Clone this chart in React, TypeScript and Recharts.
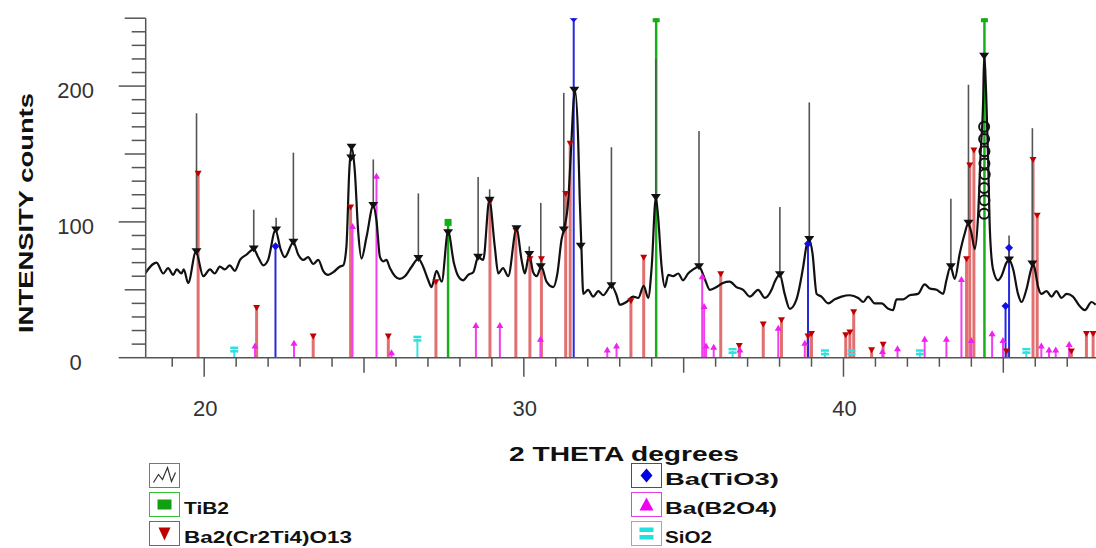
import React from 'react';
import { ComposedChart, Line, Scatter, XAxis, YAxis, ReferenceLine } from 'recharts';

// measured pattern (2theta, counts)
const pattern: [number, number][] = [
  [18.15, 62], [18.51, 70], [18.72, 62], [18.87, 66], [19.03, 61], [19.14, 65], [19.29, 62], [19.36, 65],
  [19.5, 55], [19.74, 78], [19.97, 60], [20.18, 65], [20.33, 62], [20.49, 67], [20.65, 65], [20.8, 68],
  [20.96, 64], [21.12, 72], [21.33, 76], [21.55, 80], [21.69, 74], [21.85, 68], [22.0, 72], [22.23, 94],
  [22.39, 80], [22.52, 74], [22.79, 85], [22.94, 76], [23.1, 72], [23.25, 74], [23.41, 69], [23.57, 72],
  [23.72, 64], [23.88, 61], [24.04, 63], [24.24, 67], [24.35, 68], [24.45, 82], [24.54, 138], [24.61, 155],
  [24.71, 138], [24.82, 92], [24.92, 73], [25.08, 89], [25.29, 112], [25.39, 101], [25.5, 74], [25.6, 71],
  [25.7, 72], [25.81, 66], [25.97, 60], [26.12, 58], [26.28, 60], [26.49, 67], [26.7, 73], [26.85, 67],
  [27.01, 57], [27.11, 52], [27.27, 64], [27.43, 56], [27.63, 93], [27.81, 70], [27.95, 60], [28.1, 57],
  [28.26, 61], [28.42, 63], [28.57, 74], [28.73, 72], [28.92, 116], [29.09, 82], [29.2, 62], [29.35, 66],
  [29.51, 60], [29.77, 95], [29.93, 72], [30.03, 62], [30.17, 76], [30.29, 63], [30.4, 60], [30.55, 67],
  [30.71, 56], [30.92, 52], [31.05, 62], [31.18, 87], [31.25, 94], [31.39, 116], [31.49, 160], [31.56, 190],
  [31.6, 197], [31.7, 160], [31.75, 116], [31.8, 82], [31.86, 47], [32.01, 50], [32.17, 45], [32.33, 49],
  [32.48, 46], [32.74, 53], [32.9, 46], [33.0, 39], [33.21, 41], [33.42, 45], [33.58, 44], [33.75, 53],
  [33.89, 44], [34.0, 67], [34.13, 118], [34.2, 104], [34.31, 67], [34.41, 52], [34.52, 61], [34.67, 60],
  [34.83, 62], [34.98, 57], [35.14, 62], [35.3, 65], [35.48, 67], [35.66, 58], [35.82, 50], [36.03, 52],
  [36.23, 55], [36.44, 56], [36.65, 52], [36.86, 50], [37.07, 45], [37.33, 50], [37.54, 44], [37.75, 50],
  [37.85, 56], [38.01, 61], [38.16, 47], [38.32, 36], [38.53, 43], [38.74, 67], [38.84, 82], [38.93, 87],
  [39.03, 77], [39.16, 47], [39.31, 45], [39.52, 40], [39.73, 43], [39.94, 45], [40.2, 46], [40.46, 44],
  [40.62, 41], [40.77, 45], [40.98, 40], [41.19, 40], [41.4, 36], [41.55, 35], [41.66, 43], [41.87, 43],
  [42.07, 46], [42.33, 47], [42.54, 54], [42.7, 51], [42.91, 50], [43.12, 47], [43.22, 57], [43.35, 67],
  [43.48, 58], [43.64, 77], [43.8, 92], [43.9, 99], [44.0, 92], [44.11, 80], [44.21, 104], [44.29, 150],
  [44.37, 190], [44.4, 222], [44.47, 190], [44.53, 141], [44.58, 94], [44.68, 65], [44.84, 57], [44.94, 60],
  [45.1, 70], [45.18, 72], [45.31, 65], [45.46, 47], [45.57, 41], [45.72, 50], [45.88, 66], [45.93, 69],
  [45.98, 66], [46.09, 52], [46.19, 47], [46.35, 49], [46.51, 45], [46.66, 49], [46.82, 44], [46.98, 47],
  [47.18, 45], [47.39, 38], [47.55, 35], [47.76, 41], [47.89, 39],
];

// peak search sticks: position, count at curve, top
const peakSticks: [number, number, number][] = [
  [19.76, 78, 180], [21.55, 80, 109], [22.25, 94, 103], [22.79, 85, 151], [25.29, 112, 146],
  [26.7, 73, 121], [28.57, 74, 133], [28.93, 116, 124], [30.17, 76, 82], [30.53, 67, 114],
  [31.25, 94, 195], [32.74, 53, 155], [34.13, 118, 220], [35.48, 67, 167], [38.01, 61, 111],
  [38.93, 87, 188], [43.36, 67, 117], [43.91, 99, 201], [45.18, 72, 90], [45.91, 69, 169],
];
const extraPeaks: [number, number][] = [
  [24.61, 155], [24.6, 147], [27.63, 92], [29.77, 95], [31.58, 197], [31.78, 82], [44.4, 222],
];
const peakLoops: [number, number][] = [
  [44.4, 106], [44.41, 116], [44.4, 125], [44.42, 135], [44.41, 143], [44.41, 152], [44.4, 161], [44.4, 170],
];

// reference phases (position, intensity)
const baCrTiO: [number, number][] = [
  [19.81, 137], [21.64, 38], [23.41, 17], [24.58, 112], [25.76, 17], [27.25, 57], [28.94, 116], [29.75, 95],
  [30.19, 74], [30.55, 74], [31.31, 122], [31.45, 159], [33.35, 43], [33.75, 75], [36.16, 63], [36.74, 10],
  [37.49, 26], [38.06, 29], [38.89, 17], [39.0, 19], [40.07, 18], [40.2, 20], [40.32, 35], [40.88, 7],
  [41.24, 11], [43.85, 74], [43.95, 143], [44.08, 154], [45.1, 6], [45.93, 147], [46.06, 106], [47.13, 6],
  [47.6, 19], [47.81, 19],
];
const tiB2: [number, number][] = [[27.63, 100], [34.14, 250], [44.41, 250]];
const baTiO3: [number, number][] = [[22.23, 82], [31.56, 250], [38.89, 84], [45.07, 38], [45.18, 81]];
const baB2O4: [number, number][] = [
  [21.59, 9], [22.81, 11], [24.64, 97], [25.39, 134], [25.86, 4], [28.5, 24], [29.25, 24], [30.52, 14],
  [32.61, 6], [32.9, 9], [35.58, 60], [35.64, 38], [35.7, 9], [35.94, 8], [36.76, 6], [37.96, 22],
  [38.79, 11], [41.22, 5], [41.69, 7], [42.54, 14], [43.22, 14], [43.69, 58], [44.0, 13], [44.65, 18],
  [44.99, 13], [46.19, 9], [46.43, 6], [46.64, 6], [47.06, 10],
];
const siO2: [number, number][] = [[20.94, 6], [26.67, 14], [36.53, 5], [39.42, 4], [40.25, 4], [42.39, 4], [45.72, 5]];

const xTicks = Array.from({ length: 29 }, (_, i) => 19 + i);
const yTicks = Array.from({ length: 26 }, (_, i) => i * 10);
const xLabels = [20, 30, 40];

const font = '"Liberation Sans", Arial, sans-serif';
const pts = (a: [number, number][]) => a.map(([x, y]) => ({ x, y }));

const XTick = (p: any) => {
  const v = p.payload.value;
  const len = v % 10 === 0 ? 19 : v % 5 === 0 ? 15 : 9;
  return (
    <g>
      <line x1={p.x} x2={p.x} y1={p.y} y2={p.y + len} stroke="#555" strokeWidth={1.5} />
      {xLabels.includes(v) && (
        <text x={p.x + 1} y={p.y + 58} textAnchor="middle" fontSize={22} fill="#333" fontFamily={font}>{v}</text>
      )}
    </g>
  );
};

const YTick = (p: any) => {
  const v = p.payload.value;
  const len = v % 100 === 0 ? 27 : v % 50 === 0 ? 21 : 14;
  return (
    <g>
      <line x1={p.x - len} x2={p.x} y1={p.y} y2={p.y} stroke="#555" strokeWidth={1.5} />
      {v % 100 === 0 && (
        <text x={p.x - 70} y={p.y + 12} textAnchor="middle" fontSize={22} fill="#333" fontFamily={font}>{v}</text>
      )}
    </g>
  );
};

const downTri = (color: string, w: number, h: number, dy = 0) => (p: any) => (
  <path d={`M${p.cx - w},${p.cy + dy - h / 2}L${p.cx + w},${p.cy + dy - h / 2}L${p.cx},${p.cy + dy + h / 2}Z`} fill={color} />
);
const upTri = (p: any) => (
  <path d={`M${p.cx - 3.5},${p.cy + 3}L${p.cx + 3.5},${p.cy + 3}L${p.cx},${p.cy - 3}Z`} fill="#f020f0" />
);
const square = (p: any) => <rect x={p.cx - 3.5} y={p.cy - 3} width={7} height={7} fill="#10b010" />;
const diamond = (p: any) => (
  <path d={`M${p.cx},${p.cy - 4}L${p.cx + 4},${p.cy}L${p.cx},${p.cy + 4}L${p.cx - 4},${p.cy}Z`} fill="#1010e0" />
);
const bars = (p: any) => (
  <g fill="#30e0e0">
    <rect x={p.cx - 4} y={p.cy - 3} width={8} height={2.5} />
    <rect x={p.cx - 4} y={p.cy + 0.5} width={8} height={2.5} />
  </g>
);
const loop = (p: any) => <circle cx={p.cx} cy={p.cy} r={5} fill="none" stroke="#111" strokeWidth={2} />;

const sticks = (a: [number, number][], color: string, width: number, key: string) =>
  a.map(([x, y], i) => (
    <ReferenceLine key={key + i} segment={[{ x, y: 0 }, { x, y }]} stroke={color} strokeWidth={width} />
  ));

const legendLeft = [
  { label: '', color: '#777' },
  { label: 'TiB2', color: '#30c030' },
  { label: 'Ba2(Cr2Ti4)O13', color: '#d04040' },
];
const legendRight = [
  { label: 'Ba(TiO3)', color: '#4040d0' },
  { label: 'Ba(B2O4)', color: '#e040e0' },
  { label: 'SiO2', color: '#30d8d8' },
];
const legendWidths: Record<string, number> = {
  TiB2: 45, 'Ba2(Cr2Ti4)O13': 168, 'Ba(TiO3)': 114, 'Ba(B2O4)': 112, SiO2: 47,
};

const Icon = ({ x, y, row, side }: { x: number; y: number; row: number; side: 'l' | 'r' }) => {
  const cx = x + 15;
  const cy = y + 12;
  if (side === 'l' && row === 0)
    return <polyline points={`${x + 4},${y + 19} ${x + 9},${y + 11} ${x + 13},${y + 16} ${x + 18},${y + 4} ${x + 22},${y + 18} ${x + 26},${y + 9}`} fill="none" stroke="#333" strokeWidth={1.2} />;
  if (side === 'l' && row === 1) return <rect x={cx - 7} y={cy - 5} width={14} height={10} fill="#10a010" />;
  if (side === 'l' && row === 2) return <path d={`M${cx - 6},${cy - 6}L${cx + 6},${cy - 6}L${cx},${cy + 7}Z`} fill="#c00000" />;
  if (row === 0) return <path d={`M${cx},${cy - 7}L${cx + 6},${cy}L${cx},${cy + 7}L${cx - 6},${cy}Z`} fill="#0000e0" />;
  if (row === 1) return <path d={`M${cx - 7},${cy + 6}L${cx + 7},${cy + 6}L${cx},${cy - 7}Z`} fill="#f000f0" />;
  return (
    <g fill="#20e0e0">
      <rect x={cx - 7} y={cy - 6} width={14} height={4.5} />
      <rect x={cx - 7} y={cy + 1.5} width={14} height={4.5} />
    </g>
  );
};

const rowY = (i: number) => 463 + i * 29;

export default function App() {
  const curve = pts(pattern);
  return (
    <div style={{ position: 'relative', width: 1096, height: 548, background: '#fff', fontFamily: font }}>
      <style>{'body{margin:0}'}</style>
      <ComposedChart width={1096} height={548} data={curve} margin={{ top: 18.2, right: 0, left: 0, bottom: 150.3 }}>
        <XAxis
          dataKey="x"
          type="number"
          domain={[18.17, 47.9]}
          allowDataOverflow
          ticks={xTicks}
          interval={0}
          tickSize={0}
          tickMargin={0}
          tickLine={false}
          tick={XTick}
          height={40}
          axisLine={{ stroke: '#555', strokeWidth: 1.5 }}
        />
        <YAxis
          dataKey="y"
          type="number"
          domain={[0, 250]}
          allowDataOverflow
          ticks={yTicks}
          interval={0}
          tickSize={0}
          tickMargin={0}
          tickLine={false}
          tick={YTick}
          width={145.7}
          axisLine={{ stroke: '#555', strokeWidth: 1.5 }}
        />
        {sticks(siO2, '#40e0e0', 2, 'si')}
        {sticks(baCrTiO, '#e27070', 3, 'cr')}
        {sticks(baB2O4, '#f040f0', 2, 'bb')}
        {sticks(baTiO3, '#2828e0', 2, 'bt')}
        {sticks(tiB2, '#18b018', 2.5, 'tb')}
        {peakSticks.map(([x, lo, hi], i) => (
          <ReferenceLine key={'pk' + i} segment={[{ x, y: lo }, { x, y: hi }]} stroke="#555" strokeWidth={1.6} />
        ))}
        <Line dataKey="y" type="monotone" stroke="#111" strokeWidth={2.2} dot={false} isAnimationActive={false} />
        <Scatter data={pts(baCrTiO)} shape={downTri('#c00000', 3.5, 6, 2)} isAnimationActive={false} />
        <Scatter data={pts(tiB2)} shape={square} isAnimationActive={false} />
        <Scatter data={pts(baTiO3)} shape={diamond} isAnimationActive={false} />
        <Scatter data={pts(baB2O4)} shape={upTri} isAnimationActive={false} />
        <Scatter data={pts(siO2)} shape={bars} isAnimationActive={false} />
        <Scatter
          data={[...peakSticks.map(([x, y]) => ({ x, y })), ...pts(extraPeaks)]}
          shape={downTri('#111', 5, 7)}
          isAnimationActive={false}
        />
        <Scatter data={pts(peakLoops)} shape={loop} isAnimationActive={false} />
      </ComposedChart>
      <svg width={1096} height={548} style={{ position: 'absolute', left: 0, top: 0, pointerEvents: 'none' }} fontFamily={font}>
        <text transform="translate(33,213) rotate(-90)" textAnchor="middle" fontSize={20} fontWeight="bold" fill="#111" textLength={240} lengthAdjust="spacingAndGlyphs">
          INTENSITY counts
        </text>
        <text x={624} y={461} textAnchor="middle" fontSize={21} fontWeight="bold" fill="#111" textLength={230} lengthAdjust="spacingAndGlyphs">
          2 THETA degrees
        </text>
        {legendLeft.map((d, i) => (
          <g key={'l' + i}>
            <rect x={149.5} y={rowY(i) + 0.5} width={30} height={24} fill="#fff" stroke={d.color} strokeWidth={1} />
            <Icon x={149.5} y={rowY(i) + 0.5} row={i} side="l" />
            {d.label && (
              <text x={184} y={rowY(i) + 22} fontSize={17} fontWeight="bold" fill="#111" textLength={legendWidths[d.label]} lengthAdjust="spacingAndGlyphs">
                {d.label}
              </text>
            )}
          </g>
        ))}
        {legendRight.map((d, i) => (
          <g key={'r' + i}>
            <rect x={631.5} y={rowY(i) + 0.5} width={30} height={24} fill="#fff" stroke={d.color} strokeWidth={1} />
            <Icon x={631.5} y={rowY(i) + 0.5} row={i} side="r" />
            <text x={665} y={rowY(i) + 22} fontSize={17} fontWeight="bold" fill="#111" textLength={legendWidths[d.label]} lengthAdjust="spacingAndGlyphs">
              {d.label}
            </text>
          </g>
        ))}
      </svg>
    </div>
  );
}
